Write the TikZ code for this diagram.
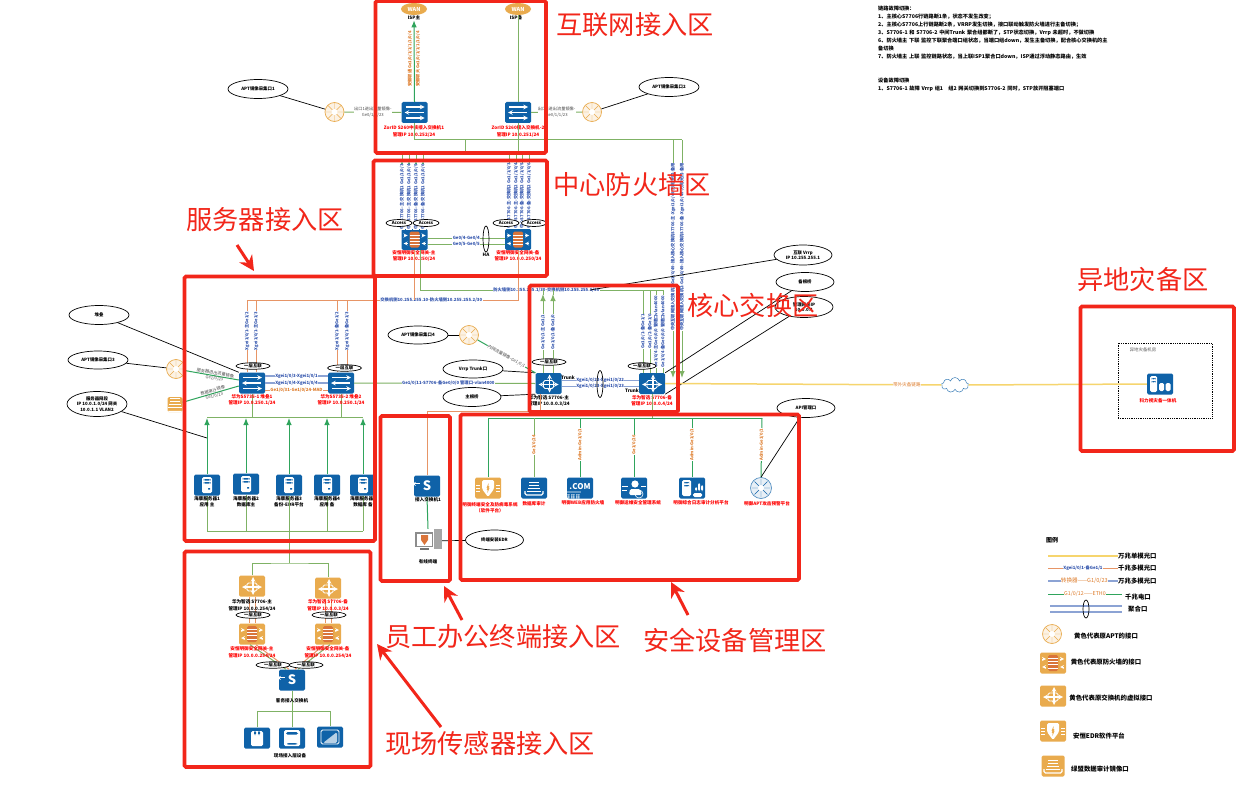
\documentclass[tikz,border=0pt]{standalone}
\usepackage{fontspec}
\setmainfont{Noto Sans CJK SC}
\usetikzlibrary{shapes.geometric,shapes.symbols,arrows.meta}
\definecolor{netblue}{HTML}{0F62A8}
\definecolor{iconorange}{HTML}{E9AB4E}
\definecolor{brickorange}{HTML}{D9743A}
\definecolor{framered}{HTML}{F2261A}
\definecolor{linegreen}{HTML}{7FB265}
\definecolor{darkgreen}{HTML}{2FA45C}
\definecolor{lineorange}{HTML}{E79566}
\definecolor{lineblue}{HTML}{8CA3D4}
\definecolor{labelblue}{HTML}{2F52AC}
\definecolor{labelorange}{HTML}{DD7A28}
\definecolor{lineyellow}{HTML}{F6D56E}
\newcommand{\glyph}[1]{\begin{scope}[shift={(path picture bounding box.center)}]#1\end{scope}}
\newcommand{\glyphcore}{\glyph{\draw[white,line width=1.1pt,stealth-stealth] (-10,1)--(10,1);\draw[white,line width=1.1pt,stealth-stealth] (1,-9)--(1,9);\draw[white,line width=.9pt] (-5,-3) rectangle (5,5);}}
\newcommand{\glyphsw}{\glyph{\draw[white,line width=1.1pt,-stealth] (-9,-5.5)--(10,-5.5);\draw[white,line width=1.1pt,-stealth] (9,0)--(-10,0);\draw[white,line width=1.1pt,-stealth] (-9,5.5)--(10,5.5);}}
\newcommand{\glyphaccess}{\glyph{\draw[white,line width=.8pt,-stealth] (-3,-7)--(-11,-7);\draw[white,line width=.8pt,-stealth] (3,8)--(11,8);}}
\newcommand{\glyphfw}[1]{\glyph{\fill[#1] (-5,-8) rectangle (5,8);\draw[white,line width=.3pt] (-5,-4.8)--(5,-4.8) (-5,-1.6)--(5,-1.6) (-5,1.6)--(5,1.6) (-5,4.8)--(5,4.8);\draw[white,line width=.8pt,-stealth] (-11,-4)--(-7,-4);\draw[white,line width=.8pt,stealth-] (-11,4)--(-7,4);\draw[white,line width=.8pt,-stealth] (7,-4)--(11,-4);\draw[white,line width=.8pt,stealth-] (7,4)--(11,4);}}
\newcommand{\glyphsrv}{\glyph{\fill[white] (-5,-8) rectangle (5,8);\fill[netblue] (-3.5,-6) rectangle (3.5,-4.5) (-3.5,-3) rectangle (3.5,-1.5);\fill[netblue] (1,3) rectangle (3,4.5);}}
\newcommand{\glyphaudit}{\glyph{\draw[white,line width=1pt] (-5,-6)--(5,-6) (-5,-3)--(5,-3) (-6,0)--(6,0) (-7,3)--(7,3);\draw[white,line width=1.2pt] (-9,3)--(-9,7)--(9,7)--(9,3);}}
\newcommand{\glyphweb}{\glyph{\foreach \u in {-10,-8,-6,-3,-1,2,4,7,9}{\fill[white] (\u,1.5) rectangle (\u+1,8);}\fill[white] (-11,-1.2) rectangle (11,-.4);}}
\newcommand{\glyphops}{\glyph{\fill[white] (1,-4) circle (3.6);\fill[white] (-5,7) -- (-4,1) -- (6,1) -- (8,7) -- cycle;\draw[white,line width=.5pt] (-12,-2)--(-6,-2) (-12,2)--(-7,2) (7,-2)--(12,-2);\draw[white,line width=.6pt] (5,6) circle (4);}}
\newcommand{\glyphlog}{\glyph{\fill[white] (-10,-8) rectangle (-1,8);\fill[netblue] (-8,-6) rectangle (-3,-4.6) (-8,-3) rectangle (-3,-1.6);\fill[white] (3,-1) rectangle (5,3) (6,-5) rectangle (8,3) (9,-3) rectangle (11,3);\fill[white] (1,5) rectangle (10,9);}}
\newcommand{\glyphedr}{\glyph{\fill[white] (-6,-8) -- (6,-8) -- (6,1) -- (0,9) -- (-6,1) -- cycle;\fill[iconorange] (1,-6) -- (-2,1) -- (0,1) -- (-1,6) -- (2,-1) -- (0,-1) -- cycle;\draw[white,line width=.5pt] (-12,-3)--(-8,-3) (-12,0)--(-8,0) (-12,3)--(-8,3) (8,-3)--(12,-3) (8,0)--(12,0) (8,3)--(12,3);}}
\newcommand{\glyphbak}{\glyph{\fill[white] (-10,-8) rectangle (-3,8);\fill[netblue] (-8.5,-6) rectangle (-4.5,-4.6) (-8.5,-3) rectangle (-4.5,-1.6);\fill[white] (-1,-1) rectangle (4,7) (5.5,-1) rectangle (10.5,7);}}
\newcommand{\glyphspoke}[1]{\glyph{\draw[#1,line width=.4pt] (-9,0)--(9,0) (0,-9)--(0,9) (-6.4,-6.4)--(6.4,6.4) (-6.4,6.4)--(6.4,-6.4);\fill[white] (0,0) circle (3);}}
\newcommand{\glyphdeva}{\glyph{\fill[white] (-6,-7) rectangle (6,8);\fill[netblue] (-3,-7.5) rectangle (-1,-3) (1,-7.5) rectangle (3,-3);}}
\newcommand{\glyphdevb}{\glyph{\fill[white] (-8,-8) rectangle (8,8);\fill[netblue] (-6,-6) rectangle (6,-3.5) (-5,5) rectangle (5,6.5);}}
\newcommand{\glyphdevc}{\glyph{\draw[white,line width=.8pt] (-9,-7) rectangle (9,7);\fill[white!70!netblue] (-7,6) -- (7,-5) -- (7,6) -- cycle;}}
\newcommand{\glyphpc}{\glyph{\fill[black!45] (-13,-9) rectangle (5,6);\fill[white] (-11.5,-7.5) rectangle (3.5,4.5);\fill[brickorange] (-7,-6) -- (0,-6) -- (0,-1) -- (-3.5,4) -- (-7,-1) -- cycle;\fill[black!35] (6,-12) rectangle (14,8);\fill[black!55] (-8,7) rectangle (1,9);}}
\begin{document}
\begin{tikzpicture}[x=1pt,y=-1pt,shorten >=0pt]
    \tikzstyle{lab}=[font=\fontsize{4.6}{6.2}\selectfont\bfseries,align=center,inner sep=0pt]
    \tikzstyle{redlab}=[lab,text=red]
    \tikzstyle{blacklab}=[lab,text=black]
    \tikzstyle{legtext}=[blacklab,font=\fontsize{6.4}{7}\selectfont\bfseries]
    \tikzstyle{title}=[font=\fontsize{26.2}{28}\selectfont,text=framered,inner sep=0pt]
    \tikzstyle{tag}=[ellipse,draw,fill=white,inner sep=0pt,line width=.7pt,font=\fontsize{4.4}{5.6}\selectfont\bfseries,align=center]
    \tikzstyle{tagline}=[black,line width=.7pt]
    \tikzstyle{iconbox}=[rectangle,rounded corners=1.5pt,fill=netblue,minimum width=26pt,minimum height=21pt,inner sep=0pt]
    \tikzstyle{coreicon}=[iconbox,path picture={\glyphcore}]
    \tikzstyle{swicon}=[iconbox,path picture={\glyphsw}]
    \tikzstyle{accessicon}=[iconbox,text=white,font=\fontsize{13}{13}\selectfont\bfseries,path picture={\glyphaccess}]
    \tikzstyle{fwicon}=[iconbox,path picture={\glyphfw{brickorange}}]
    \tikzstyle{srvicon}=[iconbox,path picture={\glyphsrv}]
    \tikzstyle{auditicon}=[iconbox,path picture={\glyphaudit}]
    \tikzstyle{webicon}=[iconbox,text=white,font=\fontsize{8}{8}\selectfont\bfseries,path picture={\glyphweb}]
    \tikzstyle{opsicon}=[iconbox,path picture={\glyphops}]
    \tikzstyle{logicon}=[iconbox,path picture={\glyphlog}]
    \tikzstyle{edricon}=[iconbox,fill=iconorange,path picture={\glyphedr}]
    \tikzstyle{bakicon}=[iconbox,path picture={\glyphbak}]
    \tikzstyle{apticon}=[circle,draw=iconorange,fill=iconorange!15,line width=.7pt,minimum size=19pt,inner sep=0pt,path picture={\glyphspoke{iconorange}}]
    \tikzstyle{apticonblue}=[circle,draw=netblue!70,fill=netblue!10,line width=.7pt,minimum size=21pt,inner sep=0pt,path picture={\glyphspoke{netblue}}]
    \tikzstyle{wan}=[ellipse,fill=iconorange,text=white,minimum width=26pt,minimum height=12pt,inner sep=0pt,font=\fontsize{5.5}{6}\selectfont\bfseries]
    \tikzstyle{lg}=[linegreen,line width=1pt]
    \tikzstyle{dg}=[darkgreen,line width=1pt]
    \tikzstyle{lo}=[lineorange,line width=1pt]
    \tikzstyle{lb}=[lineblue,line width=1.1pt]
    \tikzstyle{ly}=[lineyellow,line width=1.5pt]
    \tikzstyle{head}=[-{Latex[length=7pt,width=5.5pt]}]
    \tikzstyle{vblue}=[rotate=90,fill=white,inner sep=.4pt,text=labelblue,font=\fontsize{4.2}{5}\selectfont\bfseries]
    \tikzstyle{vorange}=[rotate=90,fill=white,inner sep=.4pt,text=labelorange,font=\fontsize{4.2}{5}\selectfont\bfseries]
    \tikzstyle{hblue}=[fill=white,inner sep=.4pt,text=labelblue,font=\fontsize{4.3}{5}\selectfont\bfseries]
    \tikzstyle{horange}=[fill=white,inner sep=.4pt,text=labelorange,font=\fontsize{4.3}{5}\selectfont\bfseries]
    \tikzstyle{hgray}=[fill=white,inner sep=.4pt,text=black!70,align=center,font=\fontsize{4.2}{5.4}\selectfont]
    \tikzstyle{frame}=[framered,line width=3.6pt,rounded corners=1.5pt]
    \tikzstyle{bigarrow}=[framered,line width=3pt,-{Stealth[length=15pt,width=15pt]}]
    \useasboundingbox (0,0) rectangle (1237,789);
    \fill[white] (0,0) rectangle (1237,789);
      % internet zone
      \node[wan] (WAN_1) at (414,9) {WAN};
      \node[wan] (WAN_2) at (518,9) {WAN};
      \node[blacklab] (ISP_1) at (414,18) {ISP主};
      \node[blacklab] (ISP_2) at (516,18) {ISP备};
      \node[swicon] (SW_1) at (414.5,112.5) {};
      \node[swicon] (SW_2) at (518,112.5) {};
      \coordinate (BUS_A) at (465,140);
      \coordinate (BUS_B) at (682,140);
      \coordinate (BUS_C) at (673,140);
      \coordinate (CIN_1) at (682,378);
      \coordinate (CIN_2) at (673,378);
      \draw[dg,head] (SW_1.north) -- (ISP_1.south);
      \draw[lg] (SW_2.north) -- (WAN_2.south);
      \node[vorange] (UPT_1) at (410,59) {安徽联通 Ge1/0/1/1/1/1/0/4};
      \node[vorange] (UPT_2) at (418,59) {安徽联大 Ge1/0/1/1/1/1/0/4};
      \node[redlab] (SWT_1) at (414,131.5) {ZorID S260中核接入交换机1\\管理IP 10.0.252/24};
      \node[redlab] (SWT_2) at (518,131.5) {ZorID S260接入交换机-2\\管理IP 10.0.251/24};
      \node[apticon] (APT_1) at (334.5,112) {};
      \node[apticon] (APT_2) at (592,112) {};
      \node[tag,minimum width=60pt,minimum height=19pt] (TAG_1) at (258,89) {APT镜像采集口1};
      \node[tag,minimum width=60pt,minimum height=19pt] (TAG_2) at (669,87) {APT镜像采集口2};
      \draw[lg] (APT_1) -- node[hgray] {出口1进出流量镜像-\\Ge0/1/1/23} (SW_1);
      \draw[lg] (APT_2) -- node[hgray] {出口2进出流量镜像-\\Ge0/1/1/23} (SW_2);
      \draw[tagline] (TAG_1) -- (APT_1);
      \draw[tagline] (TAG_2) -- (APT_2);
      \draw[lg] (SW_1.south) |- (BUS_B);
      \draw[lg] (SW_2.south) -- ++(0,27.5);
      \draw[lg,head] (BUS_C) -- node[vblue,pos=.45] {中央互联网接入交换机1-Ge1/0/49-接入核心交换机S7706-主-Xgei1/0/49-万兆光口-备用} (CIN_2);
      \draw[lg,head] (BUS_B) -- node[vblue,pos=.45] {中央互联网接入交换机2-Ge1/0/49-接入核心交换机S7706-备-Xgei1/0/49-万兆光口-备用} (CIN_1);
      % firewall zone
      \node[fwicon] (FW_1) at (414.5,239.5) {};
      \node[fwicon] (FW_2) at (518,239.5) {};
      \coordinate (FB_1) at (402,155);
      \coordinate (FB_2) at (409,155);
      \coordinate (FB_3) at (416,155);
      \coordinate (FB_4) at (423,155);
      \coordinate (FB_5) at (509,155);
      \coordinate (FB_6) at (516,155);
      \coordinate (FB_7) at (522,155);
      \coordinate (FB_8) at (529,155);
      \draw[lg] (BUS_A) -- (465,155);
      \draw[lg] (FB_1) -- (FB_8);
      \draw[lg] (FB_1) -- (402,162) (FB_2) -- (409,162) (FB_3) -- (416,162) (FB_4) -- (423,162);
      \draw[dg,head] (402,229) -- node[vblue,pos=.47] {中心S7706-主-交换机1 Ge1/1/0/3} (402,161);
      \draw[dg,head] (409,229) -- node[vblue,pos=.47] {中心S7706-主-交换机1 Ge1/1/0/4} (409,161);
      \draw[dg,head] (416,229) -- node[vblue,pos=.47] {中心S7706-备-交换机1 Ge1/1/0/5} (416,161);
      \draw[dg,head] (423,229) -- node[vblue,pos=.47] {中心S7706-备-交换机1 Ge1/1/0/6} (423,161);
      \draw[lg] (509,229) -- node[vblue,pos=.45] {中心S7706-主-交换机2 Ge1/1/0/3} (FB_5);
      \draw[lg] (516,229) -- node[vblue,pos=.45] {中心S7706-主-交换机2 Ge1/1/0/4} (FB_6);
      \draw[lg] (522,229) -- node[vblue,pos=.45] {中心S7706-备-交换机2 Ge1/1/0/5} (FB_7);
      \draw[lg] (529,229) -- node[vblue,pos=.45] {中心S7706-备-交换机2 Ge1/1/0/6} (FB_8);
      \node[tag,minimum width=26pt,minimum height=7pt] (ACC_1) at (399,223) {Access};
      \node[tag,minimum width=26pt,minimum height=7pt] (ACC_2) at (426,223) {Access};
      \node[tag,minimum width=26pt,minimum height=7pt] (ACC_3) at (506,223) {Access};
      \node[tag,minimum width=25pt,minimum height=7pt] (ACC_4) at (534,223) {Access};
      \draw[lg] ([yshift=1.5pt]FW_1.east) -- node[hblue] {Ge0/4-Ge0/4} ([yshift=1.5pt]FW_2.west);
      \draw[lg] ([yshift=-4.5pt]FW_1.east) -- node[hblue] {Ge0/5-Ge0/5} ([yshift=-4.5pt]FW_2.west);
      \node[ellipse,draw,line width=.7pt,minimum width=6pt,minimum height=26pt,inner sep=0pt] (HA_1) at (486,239) {};
      \node[blacklab] (HA_2) at (486,255) {HA};
      \node[redlab] (FWT_1) at (414,256) {安恒明御安全网关-主\\管理IP 10.0.250/24};
      \node[redlab] (FWT_2) at (518,256) {安恒明御安全网关-备\\管理IP 10.0.0.250/24};
      % core zone
      \node[coreicon] (CORE_1) at (548.5,383.5) {};
      \node[coreicon] (CORE_2) at (652,383.5) {};
      \coordinate (FG_1) at (420,290);
      \coordinate (FG_2) at (663,290);
      \coordinate (VL_1) at (590,290);
      \draw[lg] (420,250) -- (FG_1) -- node[hblue,pos=.52] {防火墙侧10.255.255.1/30-交换机侧10.255.255.1/30} (FG_2);
      \draw[lg] (543,290) -- (543,295) (553,290) -- (553,295);
      \draw[lg,head] (543,373) -- node[vblue,pos=.52] {Ge1/0/1-主Ge1/1} (543,294);
      \draw[lg,head] (553,373) -- node[vblue,pos=.52] {Ge1/0/1-备Ge1/0} (553,294);
      \draw[lg] (643,373) -- node[vblue] {Ge1/0/1-备Ge1/1} (643,290);
      \draw[lg] (650,373) -- node[vblue] {Ge1/0/2-备Ge1/0} (650,290);
      \draw[lg] (656,373) -- node[vblue] {Ge1/0/4-主Ge0/0/0 管理口vlan4000} (656,290);
      \draw[lg] (663,373) -- node[vblue] {Ge1/0/4-备Ge0/0/0 管理口vlan4000} (FG_2);
      \draw[lb] ([yshift=3pt]CORE_1.east) -- node[hblue,pos=.5] {Xgei1/0/22-Xgei1/0/22} ([yshift=3pt]CORE_2.west);
      \draw[lb] ([yshift=-3pt]CORE_1.east) -- node[hblue,pos=.5] {Xgei1/0/23-Xgei1/0/23} ([yshift=-3pt]CORE_2.west);
      \node[ellipse,draw,line width=.7pt,minimum width=6pt,minimum height=27pt,inner sep=0pt] (AGG_1) at (600,384) {};
      \node[blacklab] (CORET_1) at (549,401) {华为智选 S7706-主\\管理IP 10.0.0.3/24};
      \node[redlab] (CORET_2) at (652,401) {华为智选 S7706-备\\管理IP 10.0.0.4/24};
      \node[tag,minimum width=34pt,minimum height=6.5pt] (ST_1) at (549,362) {一层互联};
      \node[tag,minimum width=28pt,minimum height=6.5pt] (ST_2) at (642,366) {一层互联};
      \node[blacklab] (TRK_1) at (568,378) {Trunk};
      \node[blacklab] (TRK_2) at (632,391) {Trunk};
      \node[tag,minimum width=60pt,minimum height=18pt] (TAG_4) at (473,369) {Vrrp Trunk口};
      \node[tag,minimum width=58pt,minimum height=19pt] (TAG_5) at (472,397) {主根桥};
      \node[tag,minimum width=58pt,minimum height=20pt] (TAG_6) at (803,255) {互联 Vrrp\\IP 10.255.255.1};
      \node[tag,minimum width=58pt,minimum height=19pt] (TAG_7) at (805,282) {备根桥};
      \node[tag,minimum width=58pt,minimum height=21pt] (TAG_8) at (804,307) {管理网关IP\\10.0.0.1};
      \node[apticon] (APT_4) at (469,335) {};
      \node[tag,minimum width=60pt,minimum height=18pt] (TAG_9) at (418,335) {APT镜像采集口4};
      \draw[tagline] (TAG_4) -- (CORE_1.north west);
      \draw[tagline] (TAG_5) -- (CORE_1.south west);
      \draw[tagline] (TAG_6) -- (VL_1);
      \draw[tagline] (TAG_7) -- (CORE_2.north east);
      \draw[tagline] (TAG_8) -- (CORE_2.south east);
      \draw[tagline] (TAG_9) -- (APT_4);
      \draw[dg] (APT_4) -- node[hgray,sloped] {内网流量镜像-Ge1/0/1} (CORE_1.north west);
      % server zone
      \node[swicon] (SV_1) at (252,383) {};
      \node[swicon] (SV_2) at (341,383) {};
      \node[apticon] (APT_3) at (176,369) {};
      \node[iconbox,fill=iconorange,minimum width=15pt,minimum height=15pt,path picture={\begin{scope}[scale=.55]\glyphaudit\end{scope}}] (AUD_1) at (175,404.5) {};
      \node[tag,minimum width=60pt,minimum height=19pt] (TAG_10) at (99,315) {堆叠};
      \node[tag,minimum width=60pt,minimum height=18pt] (TAG_11) at (98,360) {APT镜像采集口3};
      \node[tag,minimum width=60pt,minimum height=25pt] (TAG_12) at (97,404) {服务器网段\\IP 10.0.1.0/24 网关\\10.0.1.1 VLAN2};
      \node[srvicon] (SRV_1) at (207,485) {};
      \node[srvicon] (SRV_2) at (246,484) {};
      \node[srvicon] (SRV_3) at (289,485) {};
      \node[srvicon] (SRV_4) at (327,485) {};
      \node[srvicon] (SRV_5) at (363,485) {};
      \coordinate (SB_1) at (207,417);
      \coordinate (SB_2) at (363,417);
      \coordinate (SC_1) at (207,531);
      \coordinate (SC_2) at (363,531);
      \coordinate (TG_1) at (207,438);
      \coordinate (OB_1) at (518,300);
      \coordinate (OB_2) at (247,300);
      \draw[lo] (FW_2.south) -- (OB_1) -- node[hblue,pos=.32] {交换机侧10.255.255.10-防火墙侧10.255.255.2/30} (OB_2);
      \draw[lo] (FW_1.south) -- (414.5,300);
      \draw[lo] (247,300) -- node[vblue,pos=.43] {Xgei1/0/1-主Ge1/2} (247,372);
      \draw[lo] (256,300) -- node[vblue,pos=.43] {Xgei1/0/1-主Ge1/3} (256,372);
      \draw[lo] (337,300) -- node[vblue,pos=.43] {Xgei1/0/1-备Ge1/2} (337,372);
      \draw[lo] (347,300) -- node[vblue,pos=.43] {Xgei1/0/1-备Ge1/3} (347,372);
      \node[tag,minimum width=34pt,minimum height=6.5pt] (SS_1) at (253,366) {一层互联};
      \node[tag,minimum width=34pt,minimum height=6.5pt] (SS_2) at (344.5,368) {一层互联};
      \draw[lb] ([yshift=7pt]SV_1.east) -- node[hblue] {Xgei1/0/3-Xgei1/0/1} ([yshift=7pt]SV_2.west);
      \draw[lb] (SV_1.east) -- node[hblue] {Xgei1/0/4-Xgei1/0/4} (SV_2.west);
      \draw[lo] ([yshift=-7pt]SV_1.east) -- node[horange] {Ge1/0/31-Ge1/0/24-MAD} ([yshift=-7pt]SV_2.west);
      \draw[lg] (SV_2.east) -- node[hblue,pos=.52] {Ge1/0/11-S7706-备Ge0/0/0 管理口-vlan4000} (CORE_1.west);
      \draw[tagline] (TAG_10) -- (SV_1.north west);
      \draw[tagline] (TAG_11) -- (APT_3);
      \draw[tagline] (TAG_12) -- (TG_1);
      \draw[dg] (APT_3) -- node[hgray,sloped,fill=none,pos=.55] {服务器进出流量镜像\\Ge1/0/23} ([yshift=3pt]SV_1.west);
      \draw[dg] (AUD_1) -- node[hgray,sloped,fill=none,pos=.55] {数据审计镜像\\Ge1/0/23} ([yshift=-3pt]SV_1.west);
      \draw[lg] (SB_1) -- (SB_2);
      \draw[lg] (SV_1.south) -- (252,417);
      \draw[lg] (SV_2.south) -- (341,417);
      \draw[dg,head] (SRV_1.north) -- (207,418);
      \draw[dg,head] (SRV_2.north) -- (246,418);
      \draw[dg,head] (SRV_3.north) -- (289,418);
      \draw[dg,head] (SRV_4.north) -- (327,418);
      \draw[dg,head] (SRV_5.north) -- (363,418);
      \draw[lg] (SC_1) -- (SC_2);
      \draw[lg] (SRV_1.south) -- (SC_1);
      \draw[lg] (SRV_2.south) -- (246,531);
      \draw[lg] (SRV_4.south) -- (327,531);
      \draw[lg] (SRV_5.south) -- (SC_2);
      \node[redlab] (SVT_1) at (252,400) {华为S5735-1 堆叠1\\管理IP 10.0.250.1/24};
      \node[redlab] (SVT_2) at (341,400) {华为S5735-2 堆叠2\\管理IP 10.0.250.1/24};
      \node[blacklab] (SRT_1) at (207,502) {海康服务器1\\应用 主};
      \node[blacklab] (SRT_2) at (246,502) {海康服务器2\\数据库主};
      \node[blacklab] (SRT_3) at (289,502) {海康服务器3\\备份-EDR平台};
      \node[blacklab] (SRT_4) at (327,502) {海康服务器4\\应用 备};
      \node[blacklab] (SRT_5) at (363,502) {海康服务器5\\数据库 备};
      % employee zone
      \node[accessicon] (ACS_1) at (427,486) {S};
      \node[minimum width=28pt,minimum height=24pt,inner sep=0pt,path picture={\glyphpc}] (PC_1) at (428,541) {};
      \node[tag,minimum width=58pt,minimum height=20pt] (TAG_13) at (494.5,540) {终端安装EDR};
      \coordinate (EO_1) at (540,411);
      \draw[lo] (ACS_1.north) |- (EO_1) -- ([xshift=-8.5pt]CORE_1.south);
      \draw[dg] (ACS_1.south) -- (PC_1.north);
      \draw[tagline] (PC_1) -- (TAG_13);
      \node[blacklab] (ACST_1) at (428,500) {接入交换机1};
      \node[blacklab] (PCT_1) at (428,562) {有线终端};
      % security zone
      \node[edricon] (DEV_1) at (488,488) {};
      \node[auditicon] (DEV_2) at (534,488) {};
      \node[webicon] (DEV_3) at (580,488) {\raisebox{3.5pt}{.COM}};
      \node[opsicon] (DEV_4) at (634,488) {};
      \node[logicon] (DEV_5) at (692,488) {};
      \node[apticonblue] (DEV_6) at (761,488) {};
      \node[redlab] (DEVT_1) at (490,508) {明御终端安全及防病毒系统\\（软件平台）};
      \node[redlab] (DEVT_2) at (534,504) {数据库审计};
      \node[redlab] (DEVT_3) at (583,503) {明御WEB应用防火墙};
      \node[redlab] (DEVT_4) at (638,503) {明御运维安全管理系统};
      \node[redlab] (DEVT_5) at (701,503) {明御综合日志审计分析平台};
      \node[redlab] (DEVT_6) at (767,504) {明御APT攻击预警平台};
      \node[tag,minimum width=58pt,minimum height=19pt] (TAG_14) at (806,408) {API管理口};
      \coordinate (MB_1) at (488,418);
      \coordinate (MB_2) at (762,418);
      \draw[dg] (MB_1) -- (MB_2);
      \draw[lg] (CORE_2.south) -- (652,418);
      \draw[dg] (MB_1) -- (DEV_1.north);
      \draw[lg] (534,418) -- node[vorange,pos=.45] {Ge1/0/24} (DEV_2.north);
      \draw[dg] (580,418) -- node[vorange,pos=.45] {Admin-Ge1/0/1} (DEV_3.north);
      \draw[dg] (634,418) -- node[vorange,pos=.45] {Ge1/0/26} (DEV_4.north);
      \draw[dg] (692,418) -- node[vorange,pos=.45] {Admin-Ge1/0/1} (DEV_5.north);
      \draw[dg] (MB_2) -- node[vorange,pos=.45] {Admin-Ge1/0/1} (DEV_6.north);
      \draw[tagline] (TAG_14) -- (DEV_6.north);
      % sensor zone
      \node[iconbox,fill=iconorange,path picture={\glyphcore}] (OCORE_1) at (252,586) {};
      \node[iconbox,fill=iconorange,path picture={\glyphcore}] (OCORE_2) at (328,588) {};
      \node[iconbox,fill=iconorange,path picture={\glyphfw{brickorange}}] (OFW_1) at (252,634) {};
      \node[iconbox,fill=iconorange,path picture={\glyphfw{brickorange}}] (OFW_2) at (328,634) {};
      \node[accessicon] (ACS_2) at (292,680) {S};
      \node[iconbox,path picture={\glyphdeva}] (SEN_1) at (257,738) {};
      \node[iconbox,path picture={\glyphdevb}] (SEN_2) at (292,738) {};
      \node[iconbox,path picture={\glyphdevc}] (SEN_3) at (330,737) {};
      \coordinate (UB_1) at (289,563);
      \coordinate (BB_1) at (257,711);
      \coordinate (BB_2) at (330,711);
      \draw[lg] (SRV_3.south) -- (UB_1);
      \draw[lg] (OCORE_1.north) |- (UB_1) -| (OCORE_2.north);
      \draw[lo] ([xshift=-3pt]OCORE_1.south) -- ([xshift=-3pt]OFW_1.north);
      \draw[lo] ([xshift=3pt]OCORE_1.south) -- ([xshift=3pt]OFW_1.north);
      \draw[lo] ([xshift=-3pt]OCORE_2.south) -- ([xshift=-3pt]OFW_2.north);
      \draw[lo] ([xshift=3pt]OCORE_2.south) -- ([xshift=3pt]OFW_2.north);
      \draw[lg] ([xshift=-2pt]OFW_1.south) -- ([xshift=-6pt]ACS_2.north);
      \draw[lo] ([xshift=4pt]OFW_1.south) -- ([xshift=-3pt]ACS_2.north);
      \draw[lg] ([xshift=2pt]OFW_2.south) -- ([xshift=6pt]ACS_2.north);
      \draw[lo] ([xshift=-4pt]OFW_2.south) -- ([xshift=3pt]ACS_2.north);
      \draw[lg] (ACS_2.south) -- (SEN_2.north);
      \draw[lg] (SEN_1.north) |- (BB_1) -- (BB_2) -- (SEN_3.north);
      \node[blacklab] (OCT_1) at (252,605.5) {华为智选 S7706-主\\管理IP 10.0.0.254/24};
      \node[redlab] (OCT_2) at (328,605.5) {华为智选 S7706-备\\管理IP 10.0.0.3/24};
      \node[redlab] (OFT_1) at (252,652.5) {安恒明御安全网关-主\\管理IP 10.0.0.254/24};
      \node[redlab] (OFT_2) at (328,652.5) {安恒明御安全网关-备\\管理IP 10.0.0.254/24};
      \node[blacklab] (ACST_2) at (292,701) {客务接入交换机};
      \node[blacklab] (SENT_1) at (290,756) {现场接入层设备};
      \node[tag,minimum width=34pt,minimum height=6.5pt] (OS_1) at (253,615) {一层互联};
      \node[tag,minimum width=34pt,minimum height=6.5pt] (OS_2) at (329,615) {一层互联};
      \node[tag,minimum width=34pt,minimum height=6.5pt] (OS_3) at (273,665) {一层互联};
      \node[tag,minimum width=34pt,minimum height=6.5pt] (OS_4) at (306,665) {一层互联};
      % backup site
      \node[draw,densely dotted,line width=.8pt,minimum width=94pt,minimum height=75pt,inner sep=0pt] (BAK_0) at (1165,380.5) {};
      \node[font=\fontsize{4.4}{5}\selectfont,text=black!65,inner sep=0pt] (BAKT_0) at (1143,350) {异地灾备机房};
      \node[bakicon] (BAK_1) at (1160,384) {};
      \node[redlab] (BAKT_1) at (1158,401) {科力视灾备一体机};
      \node[cloud,draw=netblue!80,fill=white,line width=.5pt,cloud puffs=9,minimum width=27pt,minimum height=15pt,inner sep=0pt] (CLD_1) at (955,385) {};
      \draw[ly] (CORE_2.east) -- node[horange,font=\fontsize{4.6}{5}\selectfont,pos=.875] {带外灾备链路} (CLD_1.west);
      \draw[ly] (CLD_1.east) -- (BAK_1.west);
      % notes
      \node[lab,anchor=north west,align=left,text width=310pt,font=\fontsize{5.2}{8}\selectfont\bfseries] (NOTE_1) at (878,6) {链路故障切换：\\1、主核心S7706行链路断1条，状态不发生改变；\\2、主核心S7706上行链路断2条，VRRP发生切换，接口联动触发防火墙进行主备切换；\\3、S7706-1 和 S7706-2 中间Trunk 聚合组都断了，STP状态切换，Vrrp 未超时，不做切换\\6、防火墙主 下联 监控下联聚合端口组状态，当端口组down，发生主备切换，配合核心交换机的主\\备切换\\7、防火墙主 上联 监控链路状态，当上联ISP1聚合口down，ISP通过浮动静态路由，生效};
      \node[lab,anchor=north west,align=left,text width=310pt,font=\fontsize{5.2}{8}\selectfont\bfseries] (NOTE_2) at (878,78) {设备故障切换\\1、S7706-1 故障 Vrrp 组1\quad 组2 网关切换到S7706-2 同时，STP放开阻塞端口};
      % legend
      \node[legtext,font=\fontsize{6}{6}\selectfont\bfseries] (LEG_0) at (1052,540) {图例};
      \node[legtext,anchor=west] (LEG_1) at (1118,556) {万兆单模光口};
      \node[legtext,anchor=west] (LEG_2) at (1118,568.5) {千兆多模光口};
      \node[legtext,anchor=west] (LEG_3) at (1118,581) {万兆多模光口};
      \node[legtext,anchor=west] (LEG_4) at (1125,597) {千兆电口};
      \node[legtext,anchor=west] (LEG_5) at (1128,609) {聚合口};
      \coordinate (LS_1) at (1048,556);
      \coordinate (LS_2) at (1048,568.5);
      \coordinate (LS_3) at (1048,581);
      \coordinate (LS_4) at (1048,594);
      \coordinate (LE_4) at (1122,594);
      \coordinate (LS_5) at (1050,606);
      \coordinate (LS_6) at (1050,612);
      \coordinate (LE_5) at (1122,606);
      \coordinate (LE_6) at (1122,612);
      \draw[ly] (LS_1) -- (LEG_1);
      \draw[lo] (LS_2) -- node[hblue] {Xgei1/0/1-备Ge1/1} (LEG_2);
      \draw[lb] (LS_3) -- node[horange,font=\fontsize{5.6}{6}\selectfont,pos=.52] {转换器——G1/0/23} (LEG_3);
      \draw[dg] (LS_4) -- node[horange,font=\fontsize{5.3}{6}\selectfont] {G1/0/12——ETH0} (LE_4);
      \draw[lb] (LS_5) -- (LE_5);
      \draw[lb] (LS_6) -- (LE_6);
      \node[ellipse,draw,line width=.7pt,minimum width=6pt,minimum height=18pt,inner sep=0pt] (AGG_2) at (1086,609) {};
      \node[apticon,minimum size=19pt] (LIC_1) at (1052,634) {};
      \node[iconbox,fill=iconorange,path picture={\glyphfw{brickorange}}] (LIC_2) at (1053,663) {};
      \node[iconbox,fill=iconorange,path picture={\glyphcore}] (LIC_3) at (1053,696) {};
      \node[edricon] (LIC_4) at (1053,731) {};
      \node[iconbox,fill=iconorange,path picture={\glyphaudit},minimum width=23pt] (LIC_5) at (1053,766) {};
      \node[legtext] (LT_1) at (1106,636) {黄色代表原APT的接口};
      \node[legtext] (LT_2) at (1106,662) {黄色代表原防火墙的接口};
      \node[legtext] (LT_3) at (1111,698) {黄色代表原交换机的虚拟接口};
      \node[legtext] (LT_4) at (1099,736) {安恒EDR软件平台};
      \node[legtext] (LT_5) at (1100,769) {绿盟数据审计镜像口};
      % zones
      \draw[frame] (375.5,1) rectangle (546,153);
      \draw[frame] (373.5,160.5) rectangle (547,276);
      \draw[frame] (184.5,276.5) rectangle (375,541);
      \draw[frame] (529.5,285.5) rectangle (678,412);
      \draw[frame] (380.5,416) rectangle (450,581);
      \draw[frame] (460.5,414.5) rectangle (799,580);
      \draw[frame] (184.5,551.5) rectangle (370.5,767);
      \draw[frame] (1080.5,306.5) rectangle (1234,451);
      \node[title] (AREA_1) at (635,25) {互联网接入区};
      \node[title] (AREA_2) at (632,185) {中心防火墙区};
      \node[title] (AREA_3) at (265,220) {服务器接入区};
      \node[title] (AREA_4) at (753,305) {核心交换区};
      \node[title] (AREA_5) at (1143,279) {异地灾备区};
      \node[title] (AREA_6) at (503,637) {员工办公终端接入区};
      \node[title] (AREA_7) at (735,640) {安全设备管理区};
      \node[title] (AREA_8) at (490,744) {现场传感器接入区};
      \coordinate (AR_1a) at (237,245);
      \coordinate (AR_1b) at (254,271);
      \coordinate (AR_2a) at (462,620);
      \coordinate (AR_2b) at (444,586);
      \coordinate (AR_3a) at (688,615);
      \coordinate (AR_3b) at (671,582);
      \coordinate (AR_4a) at (441,727);
      \coordinate (AR_4b) at (377,644);
      \draw[bigarrow] (AR_1a) -- (AR_1b);
      \draw[bigarrow] (AR_2a) -- (AR_2b);
      \draw[bigarrow] (AR_3a) -- (AR_3b);
      \draw[bigarrow] (AR_4a) -- (AR_4b);
    \end{tikzpicture}
\end{document}
